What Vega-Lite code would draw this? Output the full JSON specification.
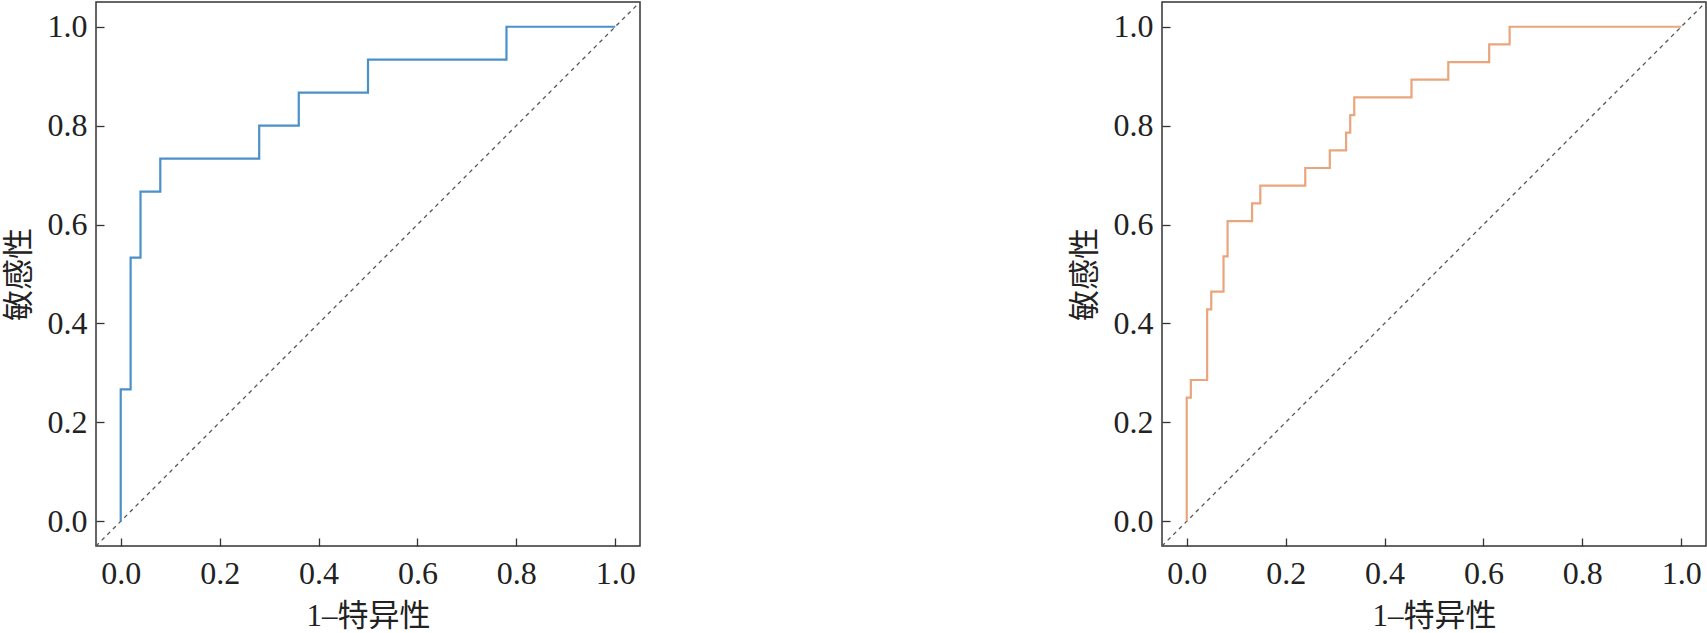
{
  "$schema": "https://vega.github.io/schema/vega-lite/v6.json",
  "padding": {"left": 2, "top": 1, "right": 0, "bottom": 0},
  "background": "white",
  "spacing": 427,
  "config": {
    "view": {"stroke": "#333333", "strokeWidth": 1.5},
    "axis": {
      "domain": false,
      "grid": false,
      "labelFont": "Liberation Serif",
      "labelFontSize": 32,
      "labelColor": "#222222",
      "titleFont": "Liberation Serif, Noto Sans CJK SC",
      "titleFontSize": 31,
      "titleFontWeight": "normal",
      "titleColor": "#222222",
      "tickColor": "#333333",
      "tickSize": -8,
      "tickWidth": 1.3
    },
    "axisX": {"labelPadding": 20, "titlePadding": 12},
    "axisY": {"labelPadding": 17, "titlePadding": 12}
  },
  "datasets": {
    "roc": [
      {"model": "A", "i": 0, "fpr": 0, "tpr": 0},
      {"model": "A", "i": 1, "fpr": 0, "tpr": 0.2667},
      {"model": "A", "i": 2, "fpr": 0.02, "tpr": 0.2667},
      {"model": "A", "i": 3, "fpr": 0.02, "tpr": 0.5333},
      {"model": "A", "i": 4, "fpr": 0.04, "tpr": 0.5333},
      {"model": "A", "i": 5, "fpr": 0.04, "tpr": 0.6667},
      {"model": "A", "i": 6, "fpr": 0.08, "tpr": 0.6667},
      {"model": "A", "i": 7, "fpr": 0.08, "tpr": 0.7333},
      {"model": "A", "i": 8, "fpr": 0.28, "tpr": 0.7333},
      {"model": "A", "i": 9, "fpr": 0.28, "tpr": 0.8},
      {"model": "A", "i": 10, "fpr": 0.36, "tpr": 0.8},
      {"model": "A", "i": 11, "fpr": 0.36, "tpr": 0.8667},
      {"model": "A", "i": 12, "fpr": 0.5, "tpr": 0.8667},
      {"model": "A", "i": 13, "fpr": 0.5, "tpr": 0.9333},
      {"model": "A", "i": 14, "fpr": 0.78, "tpr": 0.9333},
      {"model": "A", "i": 15, "fpr": 0.78, "tpr": 1},
      {"model": "A", "i": 16, "fpr": 1, "tpr": 1},
      {"model": "B", "i": 0, "fpr": 0, "tpr": 0},
      {"model": "B", "i": 1, "fpr": 0, "tpr": 0.25},
      {"model": "B", "i": 2, "fpr": 0.0083, "tpr": 0.25},
      {"model": "B", "i": 3, "fpr": 0.0083, "tpr": 0.2857},
      {"model": "B", "i": 4, "fpr": 0.0413, "tpr": 0.2857},
      {"model": "B", "i": 5, "fpr": 0.0413, "tpr": 0.4286},
      {"model": "B", "i": 6, "fpr": 0.0496, "tpr": 0.4286},
      {"model": "B", "i": 7, "fpr": 0.0496, "tpr": 0.4643},
      {"model": "B", "i": 8, "fpr": 0.0744, "tpr": 0.4643},
      {"model": "B", "i": 9, "fpr": 0.0744, "tpr": 0.5357},
      {"model": "B", "i": 10, "fpr": 0.0826, "tpr": 0.5357},
      {"model": "B", "i": 11, "fpr": 0.0826, "tpr": 0.6071},
      {"model": "B", "i": 12, "fpr": 0.1322, "tpr": 0.6071},
      {"model": "B", "i": 13, "fpr": 0.1322, "tpr": 0.6429},
      {"model": "B", "i": 14, "fpr": 0.1488, "tpr": 0.6429},
      {"model": "B", "i": 15, "fpr": 0.1488, "tpr": 0.6786},
      {"model": "B", "i": 16, "fpr": 0.2397, "tpr": 0.6786},
      {"model": "B", "i": 17, "fpr": 0.2397, "tpr": 0.7143},
      {"model": "B", "i": 18, "fpr": 0.2893, "tpr": 0.7143},
      {"model": "B", "i": 19, "fpr": 0.2893, "tpr": 0.75},
      {"model": "B", "i": 20, "fpr": 0.3223, "tpr": 0.75},
      {"model": "B", "i": 21, "fpr": 0.3223, "tpr": 0.7857},
      {"model": "B", "i": 22, "fpr": 0.3306, "tpr": 0.7857},
      {"model": "B", "i": 23, "fpr": 0.3306, "tpr": 0.8214},
      {"model": "B", "i": 24, "fpr": 0.3388, "tpr": 0.8214},
      {"model": "B", "i": 25, "fpr": 0.3388, "tpr": 0.8571},
      {"model": "B", "i": 26, "fpr": 0.4545, "tpr": 0.8571},
      {"model": "B", "i": 27, "fpr": 0.4545, "tpr": 0.8929},
      {"model": "B", "i": 28, "fpr": 0.5289, "tpr": 0.8929},
      {"model": "B", "i": 29, "fpr": 0.5289, "tpr": 0.9286},
      {"model": "B", "i": 30, "fpr": 0.6116, "tpr": 0.9286},
      {"model": "B", "i": 31, "fpr": 0.6116, "tpr": 0.9643},
      {"model": "B", "i": 32, "fpr": 0.6529, "tpr": 0.9643},
      {"model": "B", "i": 33, "fpr": 0.6529, "tpr": 1},
      {"model": "B", "i": 34, "fpr": 1, "tpr": 1}
    ],
    "diag": [
      {"i": 0, "fpr": -0.05, "tpr": -0.05},
      {"i": 1, "fpr": 1.05, "tpr": 1.05}
    ]
  },
  "hconcat": [
    {
      "width": 544,
      "height": 544,
      "layer": [
        {
          "data": {"name": "diag"},
          "mark": {"type": "line", "color": "#555555", "strokeWidth": 1.3, "strokeDash": [4, 4], "clip": true},
          "encoding": {
            "x": {"field": "fpr", "type": "quantitative", "scale": {"domain": [-0.05, 1.05], "nice": false, "zero": false}, "axis": {"values": [0, 0.2, 0.4, 0.6, 0.8, 1], "format": ".1f", "title": "1–特异性"}},
            "y": {"field": "tpr", "type": "quantitative", "scale": {"domain": [-0.05, 1.05], "nice": false, "zero": false}, "axis": {"values": [0, 0.2, 0.4, 0.6, 0.8, 1], "format": ".1f", "title": "敏感性"}},
            "order": {"field": "i"}
          }
        },
        {
          "data": {"name": "roc"},
          "transform": [{"filter": "datum.model === 'A'"}],
          "mark": {"type": "line", "color": "#4a90c9", "strokeWidth": 2.2, "clip": true},
          "encoding": {
            "x": {"field": "fpr", "type": "quantitative"},
            "y": {"field": "tpr", "type": "quantitative"},
            "order": {"field": "i"}
          }
        }
      ]
    },
    {
      "width": 544,
      "height": 544,
      "layer": [
        {
          "data": {"name": "diag"},
          "mark": {"type": "line", "color": "#555555", "strokeWidth": 1.3, "strokeDash": [4, 4], "clip": true},
          "encoding": {
            "x": {"field": "fpr", "type": "quantitative", "scale": {"domain": [-0.05, 1.05], "nice": false, "zero": false}, "axis": {"values": [0, 0.2, 0.4, 0.6, 0.8, 1], "format": ".1f", "title": "1–特异性"}},
            "y": {"field": "tpr", "type": "quantitative", "scale": {"domain": [-0.05, 1.05], "nice": false, "zero": false}, "axis": {"values": [0, 0.2, 0.4, 0.6, 0.8, 1], "format": ".1f", "title": "敏感性"}},
            "order": {"field": "i"}
          }
        },
        {
          "data": {"name": "roc"},
          "transform": [{"filter": "datum.model === 'B'"}],
          "mark": {"type": "line", "color": "#e9a57c", "strokeWidth": 2.2, "clip": true},
          "encoding": {
            "x": {"field": "fpr", "type": "quantitative"},
            "y": {"field": "tpr", "type": "quantitative"},
            "order": {"field": "i"}
          }
        }
      ]
    }
  ]
}
